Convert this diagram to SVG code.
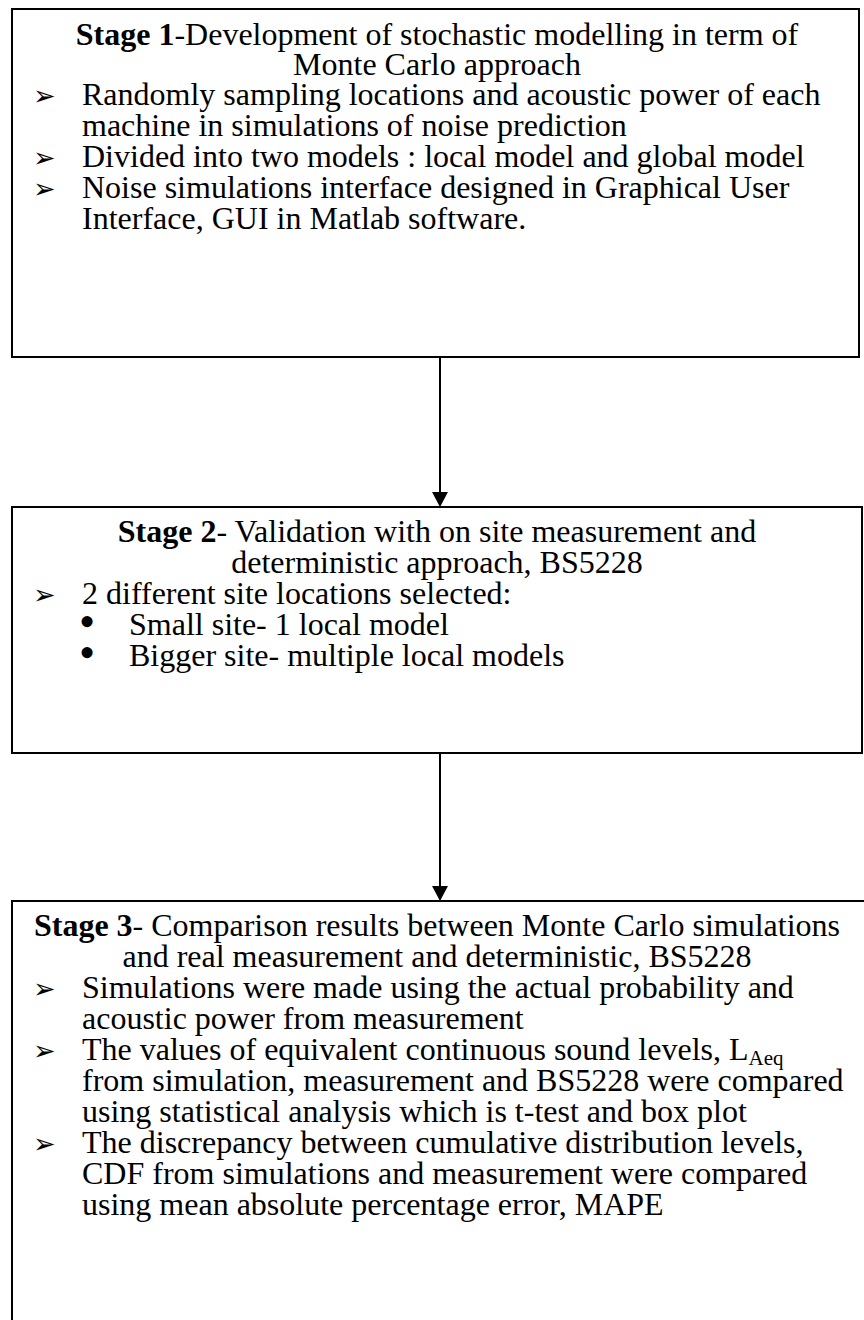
<svg xmlns="http://www.w3.org/2000/svg" width="864" height="1320" viewBox="0 0 864 1320">
<style>
.box{fill:#fff;stroke:#000;stroke-width:2}
.t{font-family:"Liberation Serif","Times New Roman",serif;font-size:32px;fill:#000}
.c{text-anchor:middle}
.b{font-weight:bold}
.ar{font-family:"DejaVu Sans",sans-serif;font-size:27px;fill:#000}
.dot{font-family:"Liberation Serif",serif;font-size:46px;fill:#000}
.sub{font-size:21px}
</style>
<rect width="864" height="1320" fill="#fff"/>
<g id="connectors">
<line x1="440" y1="357" x2="440" y2="494" stroke="#000" stroke-width="2"/>
<polygon points="432,492 448,492 440,507" fill="#000"/>
<line x1="440" y1="753" x2="440" y2="888" stroke="#000" stroke-width="2"/>
<polygon points="432,886 448,886 440,901" fill="#000"/>
</g>
<g id="stage1">
<rect class="box" x="12" y="9" width="847" height="348"/>
<text class="t c" x="437" y="45"><tspan class="b">Stage 1</tspan>-Development of stochastic modelling in term of</text>
<text class="t c" x="437" y="75">Monte Carlo approach</text>
<text class="ar" x="33" y="105">➢</text>
<text class="t" x="82" y="105">Randomly sampling locations and acoustic power of each</text>
<text class="t" x="82" y="136">machine in simulations of noise prediction</text>
<text class="ar" x="33" y="167">➢</text>
<text class="t" x="82" y="167">Divided into two models : local model and global model</text>
<text class="ar" x="33" y="198">➢</text>
<text class="t" x="82" y="198">Noise simulations interface designed in Graphical User</text>
<text class="t" x="82" y="229">Interface, GUI in Matlab software.</text>
</g>
<g id="stage2">
<rect class="box" x="12" y="507" width="850" height="246"/>
<text class="t c" x="437" y="542"><tspan class="b">Stage 2</tspan>- Validation with on site measurement and</text>
<text class="t c" x="437" y="573">deterministic approach, BS5228</text>
<text class="ar" x="33" y="604">➢</text>
<text class="t" x="82" y="604">2 different site locations selected:</text>
<text class="dot" x="79" y="637">•</text>
<text class="t" x="129" y="635">Small site- 1 local model</text>
<text class="dot" x="79" y="668">•</text>
<text class="t" x="129" y="666">Bigger site- multiple local models</text>
</g>
<g id="stage3">
<rect class="box" x="12" y="901" width="862" height="430"/>
<text class="t c" x="437" y="936"><tspan class="b">Stage 3</tspan>- Comparison results between Monte Carlo simulations</text>
<text class="t c" x="437" y="967">and real measurement and deterministic, BS5228</text>
<text class="ar" x="33" y="998">➢</text>
<text class="t" x="82" y="998">Simulations were made using the actual probability and</text>
<text class="t" x="82" y="1029">acoustic power from measurement</text>
<text class="ar" x="33" y="1060">➢</text>
<text class="t" x="82" y="1060">The values of equivalent continuous sound levels, L<tspan class="sub" dy="5">Aeq</tspan></text>
<text class="t" x="82" y="1091">from simulation, measurement and BS5228 were compared</text>
<text class="t" x="82" y="1122">using statistical analysis which is t-test and box plot</text>
<text class="ar" x="33" y="1153">➢</text>
<text class="t" x="82" y="1153">The discrepancy between cumulative distribution levels,</text>
<text class="t" x="82" y="1184">CDF from simulations and measurement were compared</text>
<text class="t" x="82" y="1215">using mean absolute percentage error, MAPE</text>
</g>
</svg>
